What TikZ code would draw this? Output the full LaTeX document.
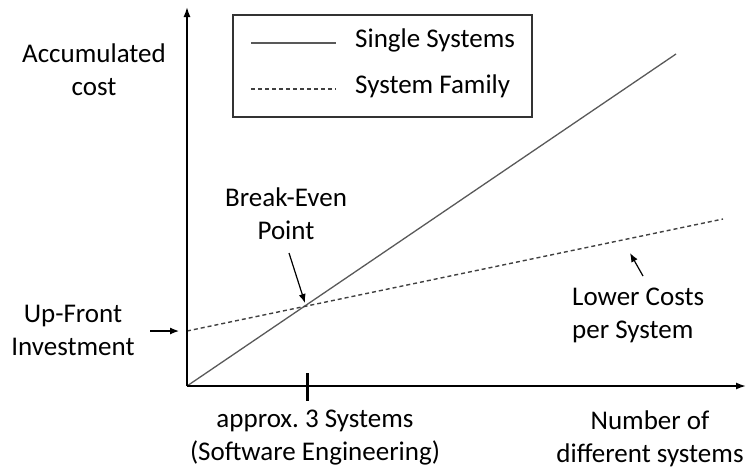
\documentclass[tikz,border=0pt]{standalone}
\usepackage{fontspec}
\setmainfont{Carlito}
\usetikzlibrary{arrows.meta}
\tikzset{
	lbl/.style = {align=center, inner sep=0pt, font=\fontsize{27}{33}\selectfont},
	axis/.style = {line width=1.6pt, -{Latex[length=10pt,width=7pt]}},
	single/.style = {line width=1.3pt, black!65},
	family/.style = {line width=1.4pt, black!75, dash pattern=on 4pt off 3pt},
	pointer/.style = {line width=1.2pt, -{Latex[length=9pt,width=7pt]}}
}

\begin{document}
\begin{tikzpicture}[x=1pt, y=-1pt]
	\useasboundingbox (0,0) rectangle (747,472);
	\coordinate (O) at (187,386);
	\coordinate (ytop) at (187,7);
	\coordinate (xend) at (746,386);
	\coordinate (se) at (676,54);
	\coordinate (fs) at (187,331);
	\coordinate (fe) at (723,219);
	\coordinate (tt) at (307,373);
	\coordinate (tb) at (307,401);
	\draw [single] (O) -- (se);
	\draw [family] (fs) -- (fe);
	\draw [axis] (O) -- (ytop);
	\draw [axis] (O) -- (xend);
	\draw [line width=3pt] (tt) -- (tb);

	\node [draw=black!80, line width=1.3pt, minimum width=299pt, minimum height=102pt, inner sep=0pt] (legend) at (382.5,66) {};
	\coordinate (ls1) at (251,43);
	\coordinate (ls2) at (336,43);
	\coordinate (lf1) at (251,89);
	\coordinate (lf2) at (336,89);
	\draw [single] (ls1) -- (ls2);
	\draw [family] (lf1) -- (lf2);
	\node [lbl, anchor=west] (singletxt) at (355,40) {Single Systems};
	\node [lbl, anchor=west] (familytxt) at (355,86) {System Family};

	\node [lbl] (ylabel) at (94,70) {Accumulated\\cost};
	\node [lbl] (xlabel) at (650,438.5) {Number of\\different systems};
	\node [lbl] (ticklabel) at (315,437.5) {approx.\ 3 Systems\\(Software Engineering)};
	\node [lbl] (upfront) at (73,330.5) {Up-Front\\Investment};
	\node [lbl] (breakeven) at (286,213.5) {Break-Even\\Point};
	\node [lbl, align=left, anchor=west] (lower) at (572,315.5) {Lower Costs\\per System};

	\coordinate (ua) at (150,331);
	\coordinate (ub) at (179,331);
	\coordinate (ba) at (289,253);
	\coordinate (bb) at (305,303);
	\coordinate (la) at (643,276);
	\coordinate (lb) at (630,253);
	\draw [pointer] (ua) -- (ub);
	\draw [pointer] (ba) -- (bb);
	\draw [pointer] (la) -- (lb);
\end{tikzpicture}
\end{document}
